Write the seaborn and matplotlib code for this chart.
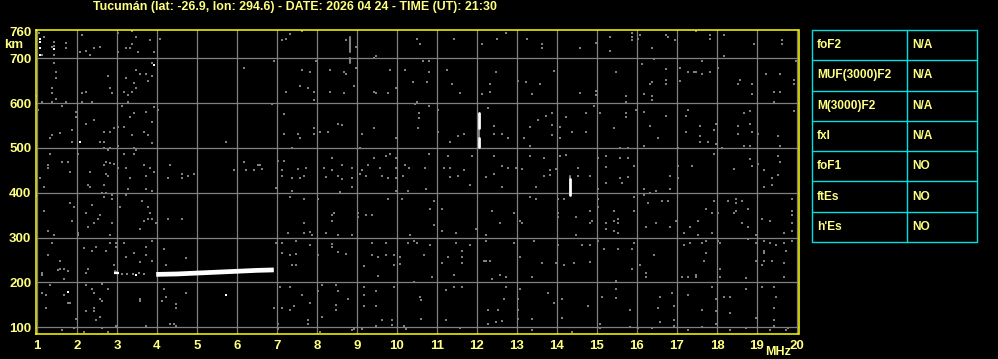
import matplotlib
matplotlib.use("Agg")
import matplotlib.pyplot as plt
import seaborn as sns
import pandas as pd

# ---------------- data ----------------
title = "Tucumán (lat: -26.9, lon: 294.6) - DATE: 2026 04 24 - TIME (UT): 21:30"
freq_ticks = list(range(1, 21))
height_ticks = [100, 200, 300, 400, 500, 600, 700, 760]
height_grid = [100, 200, 300, 400, 500, 600, 700]

table_params = ["foF2", "MUF(3000)F2", "M(3000)F2", "fxI", "foF1", "ftEs", "h'Es"]
table_values = ["N/A", "N/A", "N/A", "N/A", "NO", "NO", "NO"]

# main F-trace (white)
trace_f = [3.98, 4.5, 5.0, 5.5, 6.0, 6.5, 6.92]
trace_h = [218, 219, 221, 223, 225, 227, 228]
# short white piece near 3 MHz
trace_small_f = [2.92, 3.05]
trace_small_h = [221, 221]

# vertical white echo segments: (freq, h_start, h_end)
echo_segments = [(12.06, 545, 578), (12.06, 502, 523), (14.33, 395, 430)]
# vertical grey streaks: (freq, h_start, h_end)
grey_streaks = [(8.83, 715, 748), (8.83, 690, 700), (12.06, 523, 545), (14.33, 431, 437),
                (2.95, 224, 226)]

# isolated white pixels (freq, height)
white_dots = [(1.08, 742), (1.08, 736), (1.08, 724), (1.08, 708), (1.43, 721), (3.93, 684),
              (2.08, 514), (1.78, 178), (5.73, 172), (3.47, 217)]

# grey background noise pixels (freq, height)
noise_upper_left = [
    (1.05, 757), (1.18, 748), (1.43, 737), (1.43, 728), (1.38, 726), (1.73, 735), (1.73, 722),
    (1.43, 708), (1.13, 708), (2.13, 752), (2.08, 713), (2.23, 717), (2.33, 708), (2.43, 722),
    (2.58, 726), (3.03, 757), (3.38, 761), (3.48, 748), (3.38, 732), (3.33, 723), (3.23, 722),
    (3.03, 715), (3.53, 713), (3.83, 740), (3.93, 713), (4.08, 744), (7.13, 740), (7.23, 744),
    (7.33, 754), (7.63, 761), (8.73, 741), (8.98, 726), (9.43, 700), (9.48, 704), (10.5, 744),
    (1.43, 689), (1.48, 670), (1.48, 657), (1.38, 634), (1.38, 622), (1.48, 610), (1.13, 603),
    (1.38, 603), (1.73, 603), (1.0, 616), (2.13, 622), (2.23, 625), (2.13, 603), (2.38, 603),
    (2.78, 661), (2.83, 634), (2.88, 622), (3.23, 657), (3.48, 674), (3.58, 666), (3.73, 664),
    (3.78, 650), (3.88, 661), (3.88, 689), (3.43, 644), (3.48, 634), (3.38, 625), (3.28, 619),
    (3.18, 625), (3.28, 603), (6.18, 678), (6.93, 693), (7.23, 625), (7.58, 639), (7.63, 674),
    (7.83, 670), (7.78, 634), (7.93, 625), (7.98, 693), (7.93, 608), (8.33, 674), (8.33, 625),
    (8.68, 670), (8.73, 666), (8.93, 639), (8.98, 679), (8.68, 622), (9.43, 625), (9.48, 622),
    (9.78, 622), (9.83, 674), (9.98, 634), (10.2, 674), (10.4, 648), (10.5, 603),
    (1.03, 584), (1.63, 593), (1.98, 581), (1.98, 568), (2.43, 563), (2.23, 554), (1.88, 541),
    (1.58, 533), (1.38, 530), (1.33, 522), (1.88, 514), (2.58, 513), (2.68, 513), (2.68, 536),
    (2.83, 536), (2.93, 544), (3.03, 547), (3.18, 547), (3.13, 593), (3.33, 569), (3.43, 577),
    (3.73, 581), (3.93, 592), (4.03, 584), (3.88, 558), (3.38, 528), (3.68, 536), (3.78, 530),
    (3.88, 510), (5.73, 513), (6.88, 598), (7.18, 575), (7.18, 531), (7.53, 531), (7.58, 522),
    (7.93, 545), (7.93, 531), (8.08, 536), (8.28, 536), (8.53, 553), (8.63, 551), (9.13, 531),
    (9.43, 545), (9.98, 522), (10.45, 598), (10.55, 577), (10.55, 566),
]
noise_upper_right = [
    (10.58, 731), (11.43, 744), (12.13, 731), (12.5, 744), (12.73, 757), (13.26, 744),
    (13.63, 731), (13.63, 722), (14.58, 722), (14.98, 735), (15.33, 748), (15.33, 717),
    (15.88, 757), (15.88, 748), (15.88, 740), (16.08, 753), (16.03, 744), (16.38, 722),
    (16.73, 753), (16.78, 748), (16.96, 741), (17.48, 761), (17.83, 753), (17.83, 744),
    (18.18, 753), (18.18, 704), (18.93, 731), (19.63, 740), (19.63, 731),
    (10.64, 693), (10.79, 693), (10.79, 670), (10.74, 648), (11.24, 674), (11.38, 643),
    (11.58, 623), (12.13, 621), (12.33, 643), (12.33, 625), (12.48, 670), (13.03, 650),
    (13.23, 648), (13.38, 621), (13.58, 643), (13.93, 672), (14.58, 623), (14.98, 628),
    (14.98, 619), (15.48, 670), (15.73, 616), (15.73, 603), (16.13, 688), (16.43, 699),
    (16.38, 648), (16.33, 643), (16.73, 675), (16.73, 652), (16.73, 643), (16.18, 621),
    (16.38, 616), (16.38, 607), (17.08, 679), (17.08, 650), (17.28, 670), (17.43, 670),
    (17.48, 670), (17.63, 693), (17.63, 666), (17.83, 670), (18.03, 679), (18.58, 652),
    (18.53, 643), (18.88, 643), (18.88, 621), (19.23, 666), (19.58, 666), (19.43, 625),
    (19.58, 625), (19.93, 652), (19.93, 643), (19.43, 603), (19.98, 693),
    (10.79, 593), (11.03, 584), (10.53, 545), (11.03, 536), (11.33, 513), (11.53, 527),
    (11.68, 531), (12.28, 589), (12.43, 549), (12.43, 531), (12.63, 531), (12.78, 522),
    (13.18, 522), (13.33, 547), (13.33, 505), (13.53, 563), (13.73, 572), (13.88, 577),
    (13.88, 551), (13.88, 529), (14.08, 547), (14.08, 522), (14.23, 569), (14.38, 536),
    (14.73, 577), (14.73, 536), (14.93, 594), (15.08, 577), (15.43, 545), (15.73, 577),
    (15.73, 569), (15.98, 585), (16.18, 581), (16.33, 549), (16.53, 522), (16.73, 572),
    (16.18, 505), (17.03, 501), (17.23, 536), (17.28, 584), (17.23, 572), (17.58, 549),
    (17.58, 527), (17.58, 513), (17.78, 513), (17.93, 540), (17.98, 554), (17.98, 509),
    (18.53, 549), (18.53, 531), (18.68, 577), (18.83, 583), (18.83, 554), (18.88, 536),
    (19.03, 531), (19.53, 527), (19.58, 505), (19.93, 583), (18.83, 505), (18.68, 505),
]
noise_middle = [
    (1.33, 486), (1.28, 463), (1.28, 455), (1.63, 469), (1.78, 469), (1.83, 446), (1.08, 433),
    (2.03, 486), (2.33, 446), (2.68, 499), (2.78, 495), (2.83, 499), (3.03, 504), (2.68, 461),
    (2.73, 469), (2.83, 466), (2.93, 465), (2.73, 441), (2.78, 437), (3.03, 455), (3.18, 486),
    (3.23, 455), (3.33, 433), (3.43, 499), (3.43, 486), (3.48, 496), (3.68, 463), (3.83, 455),
    (3.73, 437), (3.93, 446), (4.33, 463), (4.28, 433), (4.63, 441), (4.63, 433), (4.78, 437),
    (4.93, 441), (5.93, 450), (6.18, 469), (6.23, 450), (6.43, 450), (6.53, 463), (6.58, 463),
    (6.63, 454), (7.03, 472), (7.18, 472), (7.13, 450), (7.13, 437), (7.38, 499), (7.38, 433),
    (7.53, 453), (7.73, 455), (7.68, 437), (7.58, 433), (8.18, 455), (8.38, 478), (8.38, 450),
    (8.23, 435), (8.53, 437), (8.63, 463), (8.63, 431), (8.88, 455), (8.88, 433), (9.08, 499),
    (9.08, 441), (9.13, 450), (9.23, 437), (9.28, 463), (9.43, 478), (9.58, 455), (9.63, 437),
    (9.73, 481), (9.83, 486), (9.78, 433), (9.98, 478), (9.98, 455), (9.98, 433), (10.2, 463),
    (10.3, 455), (10.15, 437),
    (10.79, 486), (10.69, 455), (11.28, 482), (11.18, 455), (11.33, 455), (11.33, 435),
    (11.53, 437), (11.68, 450), (11.88, 482), (12.23, 435), (12.43, 482), (12.43, 442),
    (12.63, 460), (12.78, 455), (12.98, 455), (13.13, 453), (13.33, 482), (13.68, 477),
    (13.68, 437), (13.83, 451), (13.83, 440), (13.98, 453), (14.08, 482), (14.23, 484),
    (14.53, 455), (14.53, 437), (14.83, 437), (15.03, 477), (15.23, 482), (15.23, 458),
    (15.58, 477), (15.78, 477), (15.58, 433), (15.78, 435), (15.93, 460), (15.58, 499),
    (15.78, 499), (16.83, 437), (17.03, 460), (17.38, 460), (17.03, 433), (17.93, 487),
    (18.13, 499), (18.43, 453), (18.83, 476), (18.88, 460), (19.03, 464), (19.18, 451),
    (19.38, 433), (19.53, 482), (19.58, 469), (19.53, 440),
    (1.18, 414), (2.28, 417), (2.33, 413), (2.68, 417), (2.63, 399), (2.73, 399), (3.28, 408),
    (3.73, 408), (3.88, 404), (6.98, 410), (7.38, 404), (8.58, 401), (8.88, 414), (9.98, 404),
    (10.28, 404), (10.73, 408), (11.83, 417), (12.63, 413), (13.48, 413), (15.03, 408),
    (15.23, 421), (15.63, 421), (16.18, 408), (16.48, 404), (16.83, 408), (19.18, 413),
    (19.38, 417),
]
noise_lower_left = [
    (1.0, 393), (1.18, 359), (1.83, 377), (1.93, 368), (1.88, 337), (1.28, 314), (1.43, 306),
    (2.03, 306), (2.03, 310), (2.23, 355), (2.38, 372), (2.58, 350), (2.53, 341), (2.28, 323),
    (2.43, 332), (2.68, 390), (2.88, 395), (2.88, 386), (2.88, 332), (2.83, 306), (3.08, 368),
    (3.23, 395), (3.63, 381), (3.78, 368), (3.83, 355), (3.78, 341), (3.68, 337), (3.88, 341),
    (3.98, 332), (3.58, 319), (4.28, 341), (4.63, 341), (7.33, 390), (7.68, 386), (7.68, 332),
    (7.28, 310), (7.68, 310), (7.88, 306), (7.83, 313), (8.03, 386), (8.23, 310), (8.38, 350),
    (8.43, 355), (8.38, 337), (8.53, 306), (8.88, 306), (9.03, 355), (9.03, 346), (9.23, 350),
    (9.38, 350), (9.78, 386), (10.13, 386), (10.33, 306),
    (1.38, 288), (1.28, 261), (1.58, 248), (1.58, 230), (1.53, 227), (1.68, 230), (1.78, 225),
    (1.13, 221), (1.13, 217), (1.68, 207), (2.18, 276), (2.38, 270), (2.48, 279), (2.73, 270),
    (2.83, 288), (2.98, 288), (2.98, 279), (2.28, 230), (2.23, 221), (2.93, 239), (3.18, 288),
    (3.23, 256), (3.43, 265), (3.58, 245), (3.73, 279), (3.73, 261), (3.88, 248), (3.88, 292),
    (4.18, 274), (4.23, 239), (4.73, 254), (6.98, 288), (7.13, 288), (7.13, 265), (7.33, 261),
    (7.48, 292), (7.48, 263), (7.38, 239), (7.48, 239), (7.83, 283), (8.03, 261), (8.38, 285),
    (8.38, 280), (8.53, 268), (8.73, 263), (9.18, 236), (9.38, 289), (9.38, 261), (9.53, 256),
    (9.73, 288), (9.73, 261), (9.93, 261), (9.93, 239), (10.08, 256), (10.08, 241),
    (10.28, 288), (10.43, 292), (9.53, 215),
    (3.13, 219), (3.25, 220), (3.4, 219), (3.55, 221), (3.68, 219), (2.98, 224),
    (1.33, 194), (1.13, 176), (1.23, 172), (1.68, 172), (1.78, 154), (1.83, 154), (1.23, 142),
    (1.98, 118), (1.93, 98), (1.63, 94), (2.23, 194), (2.38, 185), (2.43, 176), (2.58, 163),
    (2.63, 158), (2.23, 137), (2.43, 142), (2.43, 136), (2.58, 124), (2.48, 116), (2.78, 185),
    (2.63, 196), (2.63, 98), (2.78, 89), (2.18, 89), (3.58, 163), (3.58, 158), (2.98, 103),
    (3.73, 103), (4.18, 185), (4.23, 167), (4.13, 158), (4.48, 151), (4.48, 142), (4.73, 176),
    (4.43, 107), (4.48, 103), (4.33, 107), (7.08, 190), (7.33, 190), (7.03, 107), (7.03, 96),
    (6.93, 142), (7.13, 142), (7.33, 139), (7.43, 147), (7.63, 172), (7.83, 155), (7.78, 116),
    (7.78, 107), (8.03, 181), (8.13, 194), (8.13, 123), (8.08, 89), (8.48, 194), (8.53, 181),
    (8.48, 150), (8.48, 139), (8.78, 163), (8.88, 94), (8.93, 96), (9.18, 190), (9.18, 172),
    (9.18, 147), (9.13, 96), (9.48, 181), (9.48, 147), (9.48, 103), (9.63, 116), (9.88, 116),
    (9.88, 105), (9.93, 190), (10.18, 103), (10.23, 96), (10.43, 200),
]
noise_lower_right = [
    (10.83, 364), (10.93, 381), (11.13, 364), (10.93, 328), (11.13, 314), (11.48, 310),
    (11.98, 319), (12.23, 306), (12.38, 359), (12.58, 332), (12.93, 355), (13.08, 337),
    (13.13, 332), (13.33, 390), (13.48, 386), (14.03, 386), (14.03, 355), (14.03, 346),
    (14.18, 386), (14.48, 346), (14.48, 306), (14.83, 359), (14.83, 332), (14.88, 337),
    (15.03, 386), (15.03, 368), (15.23, 332), (15.23, 319), (15.43, 359), (15.43, 337),
    (15.53, 341), (15.53, 332), (15.43, 314), (15.53, 310), (15.93, 390), (15.93, 359),
    (16.18, 395), (16.33, 399), (16.28, 377), (16.63, 381), (16.78, 381), (16.48, 332),
    (16.23, 324), (16.83, 324), (16.98, 337), (17.18, 310), (17.33, 324), (17.53, 337),
    (17.53, 306), (17.73, 364), (17.88, 355), (17.93, 381), (17.88, 310), (18.03, 355),
    (18.28, 381), (18.48, 386), (18.48, 377), (18.63, 381), (18.43, 355), (18.48, 359),
    (18.78, 364), (18.63, 332), (18.78, 324), (18.98, 306), (19.13, 341), (19.33, 337),
    (19.68, 310), (19.88, 386), (19.88, 359), (19.88, 350), (19.88, 332), (19.88, 314),
    (10.5, 288), (10.83, 283), (10.68, 261), (11.13, 243), (11.28, 256), (11.48, 288),
    (11.63, 270), (11.63, 256), (11.63, 243), (11.83, 283), (11.43, 216), (10.88, 212),
    (12.23, 292), (12.23, 248), (12.18, 248), (12.33, 248), (12.58, 216), (12.73, 212),
    (12.38, 207), (12.93, 288), (13.08, 256), (13.38, 212), (13.43, 292), (13.63, 243),
    (14.03, 283), (13.98, 243), (14.18, 239), (14.43, 243), (14.63, 283), (14.83, 283),
    (14.83, 246), (15.03, 292), (15.18, 274), (15.53, 274), (15.88, 274), (15.93, 288),
    (15.88, 230), (16.08, 239), (16.23, 221), (16.23, 212), (16.43, 261), (17.18, 283),
    (17.33, 288), (17.63, 288), (17.73, 292), (17.73, 265), (17.68, 248), (17.48, 212),
    (17.48, 217), (17.13, 212), (17.28, 212), (18.08, 288), (18.03, 292), (18.08, 230),
    (18.08, 212), (18.78, 297), (18.98, 288), (19.18, 292), (19.18, 270), (19.18, 265),
    (19.33, 288), (19.48, 283), (19.68, 288), (19.73, 270), (19.88, 292), (18.98, 248),
    (19.18, 248), (19.13, 239), (19.38, 248), (19.68, 243), (19.68, 212), (18.73, 210),
    (11.23, 183), (11.43, 190), (11.63, 190), (10.58, 167), (10.6, 161), (10.6, 118),
    (11.23, 116), (11.58, 98), (12.28, 138), (12.53, 138), (12.48, 112), (12.63, 114),
    (12.28, 107), (12.73, 190), (12.68, 163), (13.03, 163), (13.08, 185), (13.03, 138),
    (13.03, 118), (13.38, 118), (13.38, 94), (13.78, 176), (13.93, 154), (14.13, 163),
    (14.13, 120), (14.38, 89), (14.78, 147), (15.08, 107), (15.08, 98), (15.13, 167),
    (15.48, 203), (15.48, 185), (15.48, 165), (15.83, 138), (15.83, 100), (16.03, 98),
    (16.38, 98), (16.53, 143), (16.58, 167), (16.58, 112), (16.88, 176), (16.93, 147),
    (16.93, 116), (16.93, 103), (17.28, 172), (17.28, 94), (17.63, 138), (17.63, 100),
    (17.88, 190), (17.98, 163), (17.98, 136), (17.98, 107), (18.18, 167), (18.33, 167),
    (18.33, 132), (18.33, 94), (18.73, 185), (18.73, 98), (18.98, 120), (19.13, 190),
    (19.43, 190), (19.48, 167), (19.43, 143), (19.43, 116), (19.43, 103), (19.33, 94),
    (19.73, 94), (19.78, 98),
]

# ---------------- style ----------------
BG = "black"
YELLOW = "#FFFF00"
TEXT = "#FFFF80"
GRID = "#808080"
CYAN = "#00E0E0"

sns.set_theme(style="dark", rc={"axes.facecolor": BG, "figure.facecolor": BG,
                                "savefig.facecolor": BG})
plt.rcParams["font.family"] = ["Liberation Sans", "DejaVu Sans"]
plt.rcParams["font.weight"] = "bold"

W, H = 998, 359
fig = plt.figure(figsize=(W / 100, H / 100), dpi=100)

ax = fig.add_axes([35.5 / W, (H - 333.5) / H, 763 / W, 304 / H])
ax.set_facecolor(BG)

noise_df = pd.DataFrame(noise_upper_left + noise_upper_right + noise_middle +
                        noise_lower_left + noise_lower_right, columns=["freq", "height"])
sns.scatterplot(data=noise_df, x="freq", y="height", marker="s", s=2.8,
                color=GRID, linewidth=0, ax=ax, zorder=3)

streak_rows = []
for i, (f, h0, h1) in enumerate(grey_streaks):
    streak_rows += [(i, f, h0), (i, f, h1)]
streak_df = pd.DataFrame(streak_rows, columns=["seg", "freq", "height"])
sns.lineplot(data=streak_df, x="freq", y="height", units="seg", estimator=None,
             sort=False, color=GRID, lw=1.5, ax=ax, zorder=3)

echo_rows = []
for i, (f, h0, h1) in enumerate(echo_segments):
    echo_rows += [(i, f, h0), (i, f, h1)]
echo_df = pd.DataFrame(echo_rows, columns=["seg", "freq", "height"])
sns.lineplot(data=echo_df, x="freq", y="height", units="seg", estimator=None,
             sort=False, color="white", lw=2.0, ax=ax, zorder=4)

sns.lineplot(x=trace_f, y=trace_h, color="white", lw=3.4, ax=ax, zorder=4,
             solid_capstyle="butt")
sns.lineplot(x=trace_small_f, y=trace_small_h, color="white", lw=1.6, ax=ax, zorder=4,
             solid_capstyle="butt")

wd = pd.DataFrame(white_dots, columns=["freq", "height"])
sns.scatterplot(data=wd, x="freq", y="height", marker="s", s=3.2, color="white",
                linewidth=0, ax=ax, zorder=5)

ax.set_xlim(0.9625, 20.0375)
ax.set_ylim(86.2, 764.2)
ax.set_xticks(freq_ticks)
ax.set_yticks(height_ticks)
ax.set_xticklabels([str(v) for v in freq_ticks])
ax.set_yticklabels([str(v) for v in height_ticks])
ax.grid(False)
for f in freq_ticks:
    ax.axvline(f, color=GRID, lw=0.9, zorder=1)
for h in height_grid:
    ax.axhline(h, color=GRID, lw=0.9, zorder=1)
ax.tick_params(axis="both", length=0, colors=TEXT, labelsize=9.5)
ax.tick_params(axis="x", pad=5)
ax.tick_params(axis="y", pad=3)
for lab in ax.get_xticklabels() + ax.get_yticklabels():
    lab.set_fontweight("bold")
ax.set_xlabel("")
ax.set_ylabel("")
for sp in ax.spines.values():
    sp.set_color(YELLOW)
    sp.set_linewidth(1.1)
    sp.set_visible(True)
    sp.set_zorder(6)

fig.text(13.5 / W, 1 - 45.5 / H, "km", color=TEXT, fontsize=9.5, fontweight="bold",
         ha="center", va="center")
fig.text(791 / W, 1 - 352 / H, "MHz", color=TEXT, fontsize=9, fontweight="bold",
         ha="right", va="center")
fig.text(295 / W, 1 - 7 / H, title, color=TEXT, fontsize=8.9, fontweight="bold",
         ha="center", va="center")

# ---------------- parameter table ----------------
tw, th = 165, 212
tax = fig.add_axes([812 / W, (H - 242) / H, tw / W, th / H])
tax.set_xlim(0, tw)
tax.set_ylim(th, 0)
tax.axis("off")
nrows = len(table_params)
rh = th / nrows
for i in range(nrows + 1):
    tax.plot([0, tw], [i * rh, i * rh], color=CYAN, lw=1.0, clip_on=False)
tax.plot([0, 0], [0, th], color=CYAN, lw=1.0, clip_on=False)
tax.plot([tw, tw], [0, th], color=CYAN, lw=1.0, clip_on=False)
tax.plot([95, 95], [0, th], color=CYAN, lw=1.0, clip_on=False)
for i, (p, v) in enumerate(zip(table_params, table_values)):
    yc = (i + 0.5) * rh
    tax.text(5, yc, p, color=TEXT, fontsize=8.6, fontweight="bold", ha="left", va="center")
    tax.text(100.5, yc, v, color=TEXT, fontsize=8.6, fontweight="bold", ha="left", va="center")

fig.savefig("out.png", dpi=100, facecolor=BG)
